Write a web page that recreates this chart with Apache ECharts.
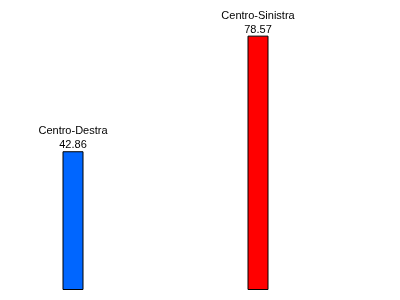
<!DOCTYPE html>
<html><head><meta charset="utf-8">
<script src="https://cdn.jsdelivr.net/npm/echarts@6/dist/echarts.min.js"></script>
<style>html,body{margin:0;padding:0;background:#fff}#c{width:400px;height:300px}</style>
</head><body><div id="c"></div>
<script>
const categories = ["Centro-Destra", "Centro-Sinistra"];
const values = [42.86, 78.57];
const colors = ["#0066FF", "#FF0000"];

const chart = echarts.init(document.getElementById('c'), null, {renderer: 'canvas'});
chart.setOption({
  animation: false,
  backgroundColor: '#fff',
  grid: {left: 73, right: 142, top: 31, bottom: 10},
  xAxis: {type: 'category', data: categories, show: false, boundaryGap: false},
  yAxis: {type: 'value', min: 0, max: 80, show: false},
  series: [{
    type: 'bar',
    barWidth: 21,
    data: values.map((v, i) => ({value: v, itemStyle: {color: colors[i]}})),
    itemStyle: {borderColor: '#000', borderWidth: 1},
    label: {
      show: true, position: 'top', distance: -1,
      fontFamily: 'Liberation Sans', fontSize: 11, color: '#000', lineHeight: 14,
      formatter: p => p.name + '\n' + p.value.toFixed(2)
    }
  }]
});
</script></body></html>
